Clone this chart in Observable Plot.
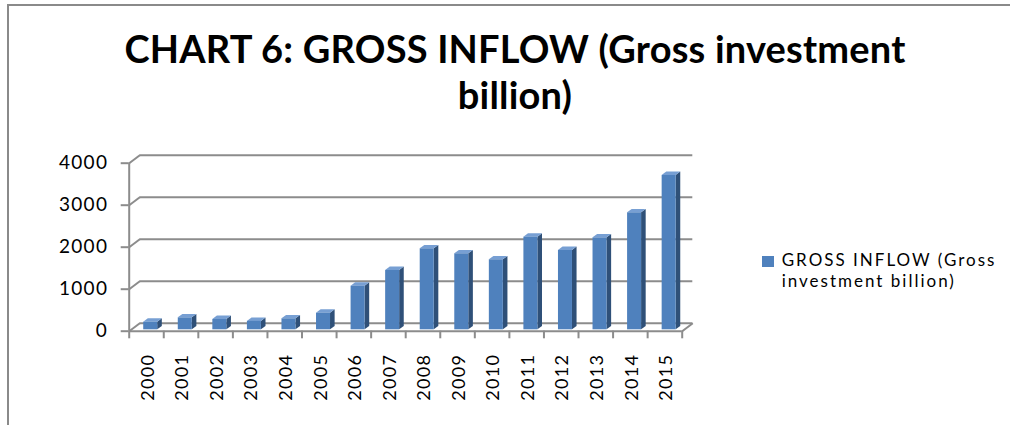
<!DOCTYPE html>
<html>
<head>
<meta charset="utf-8">
<script src="https://cdn.jsdelivr.net/npm/d3@7"></script>
<script src="https://cdn.jsdelivr.net/npm/@observablehq/plot@0.6"></script>
<style>
  html, body { margin: 0; padding: 0; background: #fff; width: 1010px; height: 425px; overflow: hidden; position: relative; }
  #frame { position: absolute; left: 7px; top: 4px; width: 1100px; height: 500px; border-top: 2px solid #8a8a8a; border-left: 2px solid #8a8a8a; }
  #title { position: absolute; left: 65px; top: 25px; width: 900px; text-align: center; font-family: Lato, "Open Sans", sans-serif; font-weight: bold; font-size: 38px; line-height: 46px; color: #000; letter-spacing: 0.2px; }
  #chart { position: absolute; left: 0; top: 140px; }
  #legend { position: absolute; left: 762px; top: 249px; font-family: Lato, "Open Sans", sans-serif; font-size: 17px; line-height: 21px; color: #000; }
  #legend .sw { position: absolute; left: 0; top: 7px; width: 11.6px; height: 10.7px; background: #4f81bd; }
  #legend .tx { position: absolute; left: 19.7px; top: 0; white-space: nowrap; letter-spacing: 2px; }
</style>
</head>
<body>
<div id="frame"></div>
<div id="title">CHART 6: GROSS INFLOW (Gross investment<br>billion)</div>
<div id="chart"></div>
<div id="legend"><div class="sw"></div><div class="tx">GROSS INFLOW (Gross<br>investment billion)</div></div>
<script>
// ---- data ----
const years = ["2000","2001","2002","2003","2004","2005","2006","2007","2008","2009","2010","2011","2012","2013","2014","2015"];
const inflow = [180, 285, 245, 200, 262, 395, 1038, 1412, 1929, 1810, 1667, 2205, 1888, 2190, 2786, 3674];
const yTicks = [0, 1000, 2000, 3000, 4000];

// ---- layout ----
const W = 1010, H = 285;
const mL = 128.7, mR = 328.3, mT = 22.7, mB = 94.3;
const n = years.length;
const pxX = (W - mL - mR) / n;          // px per x unit
const pxY = (H - mT - mB) / 4000;       // px per y unit
const wallDx = 10.6 / pxX, wallDy = 8 / pxY;   // back-wall depth offset
const barDx = 4.6 / pxX, barDy = 3.4 / pxY;    // bar depth offset
const base = 1.4 / pxY;                         // bar sits slightly behind front edge
const fx1 = 0.42, fx2 = 0.825;                  // front face within category

const grid = "#8c8c8c";
const front = "#4f81bd", side = "#2f5078", topC = "#779fd3";

const bars = inflow.map((v, i) => ({i, v, year: years[i]}));
const sideData = bars.flatMap(d => [
  {i: d.i, x: d.i + fx2, y1: base, y2: base + d.v},
  {i: d.i, x: d.i + fx2 + barDx, y1: base + barDy, y2: base + d.v + barDy}
]);
const topData = bars.flatMap(d => {
  const t = base + d.v;
  return [
    {i: d.i, x: d.i + fx1, y1: t, y2: t},
    {i: d.i, x: d.i + fx1 + barDx, y1: t, y2: t + barDy},
    {i: d.i, x: d.i + fx2, y1: t, y2: t + barDy},
    {i: d.i, x: d.i + fx2 + barDx, y1: t + barDy, y2: t + barDy}
  ];
});

const chart = Plot.plot({
  width: W, height: H,
  marginLeft: mL, marginRight: mR, marginTop: mT, marginBottom: mB,
  style: {fontFamily: "Lato, 'Open Sans', sans-serif", fontSize: "18px", color: "#000", background: "transparent", overflow: "visible"},
  x: {domain: [0, n], axis: null},
  y: {domain: [0, 4000], axis: null},
  marks: [
    // back wall gridlines
    Plot.ruleY(yTicks, {y: d => d + wallDy, x1: () => wallDx, x2: () => n + wallDx, stroke: grid, strokeWidth: 2}),
    // left wall diagonals
    Plot.link(yTicks, {x1: () => 0, y1: d => d, x2: () => wallDx, y2: d => d + wallDy, stroke: grid, strokeWidth: 2}),
    // floor right diagonal
    Plot.link([0], {x1: () => n, y1: () => 0, x2: () => n + wallDx, y2: () => wallDy, stroke: grid, strokeWidth: 2}),
    // floor front edge
    Plot.ruleY([0], {x1: () => 0, x2: () => n, stroke: grid, strokeWidth: 2}),
    // y axis line
    Plot.ruleX([0], {y1: () => 0, y2: () => 4000, stroke: grid, strokeWidth: 2}),
    Plot.axisY({ticks: yTicks, tickSize: 8, tickPadding: 13, stroke: grid, strokeWidth: 2, fill: "#000", fontSize: 19, tickFormat: d => String(d), label: null}),
    Plot.axisX({ticks: d3.range(n + 1), tickSize: 7.6, tickFormat: () => "", stroke: grid, strokeWidth: 2, label: null}),
    Plot.axisX({ticks: years.map((_, i) => i + 0.5), tickSize: 0, tickPadding: 22.6, tickRotate: -90, tickFormat: d => years[Math.floor(d)], fill: "#000", fontSize: 18, dx: 1.5, label: null}),
    // bars (3D)
    Plot.areaY(sideData, {x: "x", y1: "y1", y2: "y2", z: "i", fill: side, curve: "linear"}),
    Plot.areaY(topData, {x: "x", y1: "y1", y2: "y2", z: "i", fill: topC, curve: "linear"}),
    Plot.rect(bars, {x1: d => d.i + fx1, x2: d => d.i + fx2, y1: () => base, y2: d => base + d.v, fill: front})
  ]
});
chart.querySelectorAll("text").forEach(t => t.setAttribute("letter-spacing", "1.3px"));
document.getElementById("chart").appendChild(chart);
</script>
</body>
</html>
